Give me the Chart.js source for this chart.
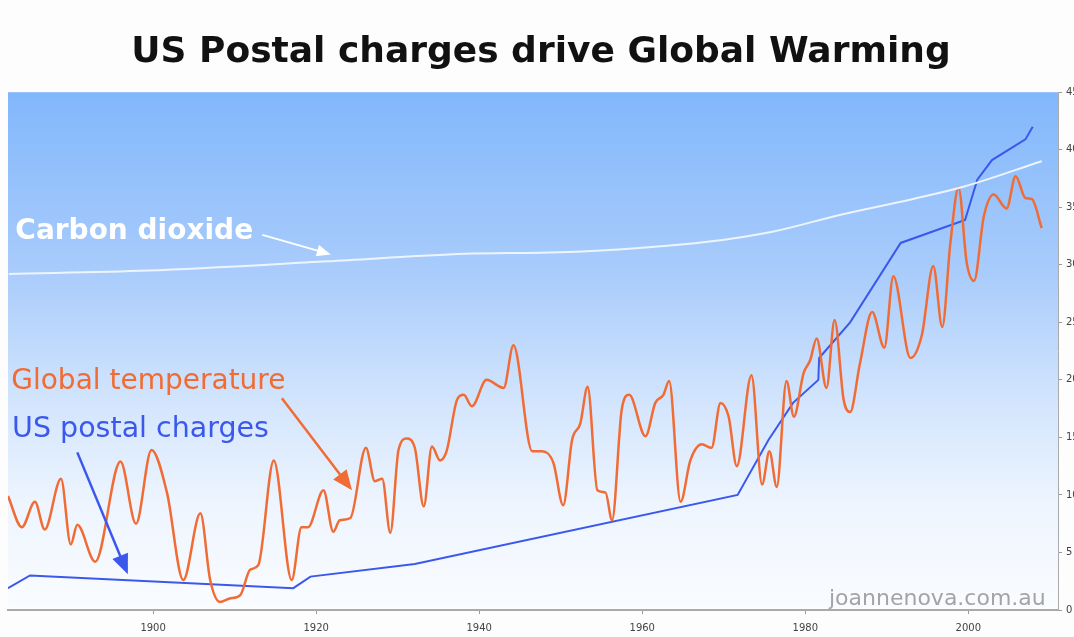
<!DOCTYPE html>
<html lang="en">
<head>
  <meta charset="UTF-8" />
  <title>US Postal charges drive Global Warming</title>
  <style>
    body {
      margin: 0;
      background: #fff;
      overflow: hidden;
    }
    .wrap {
      width: 1074px;
      height: 637px;
    }
  </style>
</head>
<body>
  <div class="wrap"><canvas id="chart"></canvas></div>

  <script src="https://cdn.jsdelivr.net/npm/chart.js"></script>
  <script>
    // values, on the right-hand scale
    const tempYears = [1882.2, 1883.9, 1885.5, 1886.7, 1888.7, 1889.9, 1890.7, 1892.9, 1896.0, 1897.9,
      1899.8, 1901.7, 1903.7, 1905.8, 1907.0, 1908.2, 1909.4, 1910.7, 1911.9, 1912.9,
      1914.8, 1917.0, 1918.2, 1919.0, 1920.9, 1922.1, 1922.9, 1924.2, 1926.1, 1927.2,
      1928.1, 1929.1, 1930.1, 1931.1, 1932.1, 1933.2, 1934.2, 1935.2, 1936.0, 1937.3,
      1938.1, 1939.1, 1940.9, 1943.0, 1944.2, 1946.5, 1947.7, 1949.1, 1950.3, 1951.4,
      1952.4, 1953.3, 1954.5, 1955.5, 1956.3, 1957.5, 1958.4, 1960.4, 1961.6, 1962.6,
      1963.3, 1964.7, 1965.9, 1967.3, 1968.5, 1969.6, 1970.6, 1971.6, 1973.4, 1974.7,
      1975.6, 1976.5, 1977.7, 1978.6, 1979.8, 1980.6, 1981.4, 1982.6, 1983.6, 1984.7,
      1985.5, 1986.7, 1988.2, 1989.7, 1990.8, 1992.9, 1994.3, 1995.7, 1996.8, 1997.8,
      1998.8, 1999.8, 2000.7, 2001.9, 2003.1, 2004.7, 2005.8, 2007.0, 2007.8, 2009.0];
    const tempValues = [9.9, 7.2, 9.4, 7.0, 11.4, 5.7, 7.4, 4.2, 12.9, 7.5,
      13.9, 10.2, 2.6, 8.4, 2.6, 0.7, 1.0, 1.3, 3.5, 3.9,
      13.0, 2.6, 7.2, 7.2, 10.4, 6.8, 7.8, 8.0, 14.1, 11.2,
      11.4, 6.7, 13.9, 14.9, 14.1, 9.0, 14.2, 13.0, 13.8, 18.3,
      18.7, 17.7, 20.0, 19.3, 23.0, 13.8, 13.8, 12.8, 9.1, 14.8,
      16.2, 19.4, 10.4, 10.2, 7.8, 17.5, 18.7, 15.1, 18.0, 18.7,
      19.9, 9.4, 13.0, 14.4, 14.1, 18.0, 16.8, 12.5, 20.4, 10.9,
      13.8, 10.7, 19.9, 16.8, 20.6, 21.7, 23.6, 19.3, 25.2, 18.3,
      17.2, 21.4, 25.9, 22.8, 29.0, 21.9, 23.9, 29.9, 24.6, 31.9,
      36.7, 30.2, 28.6, 34.2, 36.1, 34.9, 37.7, 35.8, 35.7, 33.2];

    const postYears = [1882.2, 1884.9, 1917.2, 1919.3, 1932.1, 1971.7, 1975.5, 1978.5, 1981.6, 1981.7,
      1985.5, 1991.7, 1999.6, 2001.1, 2002.9, 2007.0, 2007.9];
    const postValues = [1.9, 3.0, 1.9, 2.9, 4.0, 10.0, 14.8, 18.0, 20.0, 21.9,
      25.0, 31.9, 33.9, 37.4, 39.1, 40.9, 42.0];

    const co2Years = [1882.3, 1899.4, 1921.4, 1938.3, 1947.5, 1952.6, 1968.0, 1976.1, 1984.6, 1993.1, 1999.5, 2009.0];
    const co2Values = [29.2, 29.5, 30.3, 30.95, 31.05, 31.15, 32.0, 32.9, 34.4, 35.7, 36.8, 39.0];

    const yearTicks = [1900, 1920, 1940, 1960, 1980, 2000];
    const valueTicks = [0, 5, 10, 15, 20, 25, 30, 35, 40, 45];

    const FONT = "'DejaVu Sans', Verdana, sans-serif";
    const ORANGE = '#f06c34';
    const BLUE = '#3b58ec';

    const toPoints = (xs, ys) => xs.map((x, i) => ({ x, y: ys[i] }));

    // sky gradient behind the plot
    const skyPlugin = {
      id: 'sky',
      beforeDraw(chart) {
        const { ctx, chartArea: a } = chart;
        ctx.save();
        ctx.fillStyle = '#fdfdfd';
        ctx.fillRect(0, 0, chart.width, chart.height);
        const g = ctx.createLinearGradient(0, a.top, 0, a.bottom);
        g.addColorStop(0, '#82b7fc');
        g.addColorStop(0.35, '#a9ccfb');
        g.addColorStop(0.6, '#d3e5fd');
        g.addColorStop(0.8, '#eef5fe');
        g.addColorStop(1, '#fafcff');
        ctx.fillStyle = g;
        ctx.fillRect(a.left, a.top, a.right - a.left, a.bottom - a.top);
        ctx.restore();
      }
    };

    function arrow(ctx, x1, y1, x2, y2, color, width, head) {
      const a = Math.atan2(y2 - y1, x2 - x1);
      ctx.strokeStyle = color;
      ctx.fillStyle = color;
      ctx.lineWidth = width;
      ctx.beginPath();
      ctx.moveTo(x1, y1);
      ctx.lineTo(x2 - Math.cos(a) * head * 0.8, y2 - Math.sin(a) * head * 0.8);
      ctx.stroke();
      const w = head * 0.42;
      ctx.beginPath();
      ctx.moveTo(x2, y2);
      ctx.lineTo(x2 - head * Math.cos(a) + w * Math.sin(a), y2 - head * Math.sin(a) - w * Math.cos(a));
      ctx.lineTo(x2 - head * Math.cos(a) - w * Math.sin(a), y2 - head * Math.sin(a) + w * Math.cos(a));
      ctx.closePath();
      ctx.fill();
    }

    // labels and arrows, placed in data units
    const notesPlugin = {
      id: 'notes',
      afterDatasetsDraw(chart) {
        const { ctx, scales: { x, y } } = chart;
        const px = v => x.getPixelForValue(v);
        const py = v => y.getPixelForValue(v);
        ctx.save();
        ctx.textAlign = 'left';
        ctx.textBaseline = 'alphabetic';

        ctx.font = 'bold 28px ' + FONT;
        ctx.fillStyle = '#ffffff';
        ctx.fillText('Carbon dioxide', px(1883.1), py(32.2));
        arrow(ctx, px(1913.4), py(32.6), px(1921.8), py(30.9), '#ffffff', 2, 14);

        ctx.font = '28px ' + FONT;
        ctx.fillStyle = ORANGE;
        ctx.fillText('Global temperature', px(1882.6), py(19.2));
        arrow(ctx, px(1915.8), py(18.4), px(1924.4), py(10.4), ORANGE, 2.5, 20);

        ctx.font = '28.5px ' + FONT;
        ctx.fillStyle = BLUE;
        ctx.fillText('US postal charges', px(1882.7), py(15.0));
        arrow(ctx, px(1890.7), py(13.7), px(1896.9), py(3.1), BLUE, 2.5, 20);

        ctx.font = '22px ' + FONT;
        ctx.fillStyle = '#a4a4a4';
        ctx.textAlign = 'right';
        ctx.fillText('joannenova.com.au', px(2009.5), py(0.4));
        ctx.restore();
      }
    };

    new Chart(document.getElementById('chart'), {
      type: 'line',
      data: {
        datasets: [
          {
            label: 'Carbon dioxide',
            data: toPoints(co2Years, co2Values),
            borderColor: '#eef4ff',
            borderWidth: 2,
            pointRadius: 0,
            cubicInterpolationMode: 'monotone'
          },
          {
            label: 'Global temperature',
            data: toPoints(tempYears, tempValues),
            borderColor: ORANGE,
            borderWidth: 2.5,
            pointRadius: 0,
            cubicInterpolationMode: 'monotone'
          },
          {
            label: 'US postal charges',
            data: toPoints(postYears, postValues),
            borderColor: BLUE,
            borderWidth: 2,
            pointRadius: 0,
            tension: 0
          }
        ]
      },
      options: {
        responsive: true,
        maintainAspectRatio: false,
        devicePixelRatio: 1,
        animation: false,
        layout: { padding: { left: 8, right: 0, top: 0, bottom: 0 } },
        plugins: {
          legend: { display: false },
          tooltip: { enabled: false },
          title: {
            display: true,
            text: 'US Postal charges drive Global Warming',
            color: '#111',
            font: { family: FONT, size: 36, weight: 'bold' },
            padding: { top: 31, bottom: 18 }
          }
        },
        scales: {
          x: {
            type: 'linear',
            min: 1882.2,
            max: 2011,
            afterBuildTicks: s => { s.ticks = yearTicks.map(v => ({ value: v })); },
            afterFit: s => { s.height = 27; },
            grid: { display: true, drawOnChartArea: false, drawTicks: true, tickLength: 4, color: '#999' },
            border: { display: true, color: '#aaa', width: 2 },
            ticks: {
              color: '#444',
              padding: 8,
              maxRotation: 0,
              font: { family: FONT, size: 10 },
              callback: v => String(v)
            }
          },
          y: {
            position: 'right',
            min: 0,
            max: 45,
            afterBuildTicks: s => { s.ticks = valueTicks.map(v => ({ value: v })); },
            afterFit: s => { s.width = 16; },
            grid: { display: true, drawOnChartArea: false, drawTicks: true, tickLength: 4, color: '#999' },
            border: { display: true, color: '#aaa', width: 1 },
            ticks: {
              color: '#444',
              padding: 4,
              font: { family: FONT, size: 10 }
            }
          }
        }
      },
      plugins: [skyPlugin, notesPlugin]
    });
  </script>
</body>
</html>
